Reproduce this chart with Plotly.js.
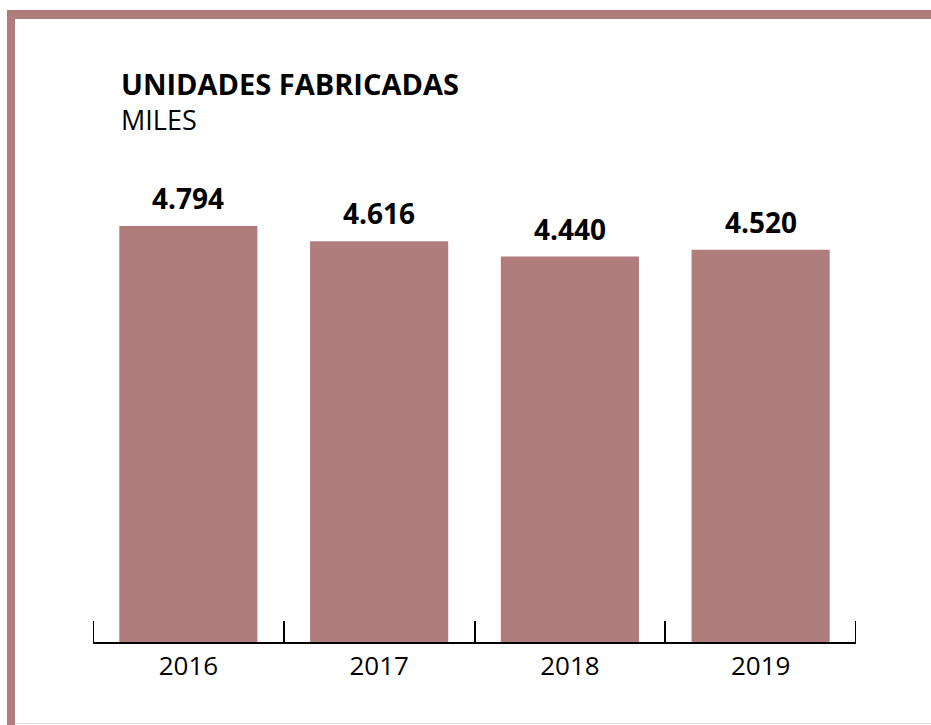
<!DOCTYPE html>
<html>
<head>
<meta charset="utf-8">
<script src="https://cdn.plot.ly/plotly-3.0.1.min.js"></script>
<style>
  html, body { margin: 0; padding: 0; background: #ffffff; }
  #chart { width: 931px; height: 725px; }
</style>
</head>
<body>
<div id="chart"></div>
<script>
const years = ['2016', '2017', '2018', '2019'];
const units = [4794, 4616, 4440, 4520];
const valueLabels = ['4.794', '4.616', '4.440', '4.520'];
const titleText = 'UNIDADES FABRICADAS';
const subtitleText = 'MILES';

const W = 931, H = 725;
const L = 93, R = 75, T = 208, B = 83;
const PW = W - L - R, PH = H - T - B;
const px = x => (x - L) / PW;
const py = y => (H - B - y) / PH;

const barColor = '#b07d7d';
const FONT = 'Open Sans, sans-serif';

const trace = {
  type: 'bar',
  x: years,
  y: units,
  marker: { color: barColor, line: { width: 0 } },
  width: 0.724,
  hoverinfo: 'none',
  cliponaxis: false
};

const annotations = years.map((yr, i) => ({
  x: i, y: units[i], xref: 'x', yref: 'y',
  text: '<b>' + valueLabels[i] + '</b>',
  showarrow: false, xanchor: 'center', yanchor: 'bottom', yshift: 7,
  font: { family: FONT, size: 28, color: '#000000' }
}));

annotations.push({
  xref: 'paper', yref: 'paper', x: px(119), y: py(62),
  xanchor: 'left', yanchor: 'top', showarrow: false,
  text: '<b>' + titleText + '</b>',
  font: { family: FONT, size: 29, color: '#000000' }
});
annotations.push({
  xref: 'paper', yref: 'paper', x: px(119), y: py(99),
  xanchor: 'left', yanchor: 'top', showarrow: false,
  text: subtitleText,
  font: { family: FONT, size: 27, color: '#000000' }
});

const tickH = 21 / PH;
const shapes = [
  { type: 'rect', xref: 'paper', yref: 'paper', x0: px(7), x1: px(931), y0: py(10), y1: py(19), fillcolor: barColor, line: { width: 0 }, layer: 'above' },
  { type: 'rect', xref: 'paper', yref: 'paper', x0: px(7), x1: px(15), y0: py(10), y1: py(725), fillcolor: barColor, line: { width: 0 }, layer: 'above' },
  { type: 'line', xref: 'paper', yref: 'paper', x0: px(15), x1: px(931), y0: py(723.5), y1: py(723.5), line: { color: '#ebe4e4', width: 1.5 } },
  { type: 'line', xref: 'x', yref: 'paper', x0: -0.5, x1: -0.5, y0: 0, y1: tickH, line: { color: '#000000', width: 2 } },
  { type: 'line', xref: 'x', yref: 'paper', x0: years.length - 0.5, x1: years.length - 0.5, y0: 0, y1: tickH, line: { color: '#000000', width: 2 } }
];

const layout = {
  width: W, height: H,
  margin: { l: L, r: R, t: T, b: B, pad: 0 },
  paper_bgcolor: '#ffffff', plot_bgcolor: '#ffffff',
  showlegend: false,
  font: { family: FONT, color: '#000000' },
  xaxis: {
    type: 'category', range: [-0.5, 3.5], fixedrange: true,
    showline: true, linecolor: '#000000', linewidth: 2,
    ticks: 'inside', tickson: 'boundaries', ticklen: 21, tickwidth: 2, tickcolor: '#000000',
    tickfont: { family: FONT, size: 26, color: '#000000' },
    showgrid: false, zeroline: false
  },
  yaxis: {
    range: [0, 5000], visible: false, showgrid: false, zeroline: false, fixedrange: true
  },
  annotations: annotations,
  shapes: shapes
};

Plotly.newPlot('chart', [trace], layout, { displayModeBar: false, staticPlot: true });
</script>
</body>
</html>
